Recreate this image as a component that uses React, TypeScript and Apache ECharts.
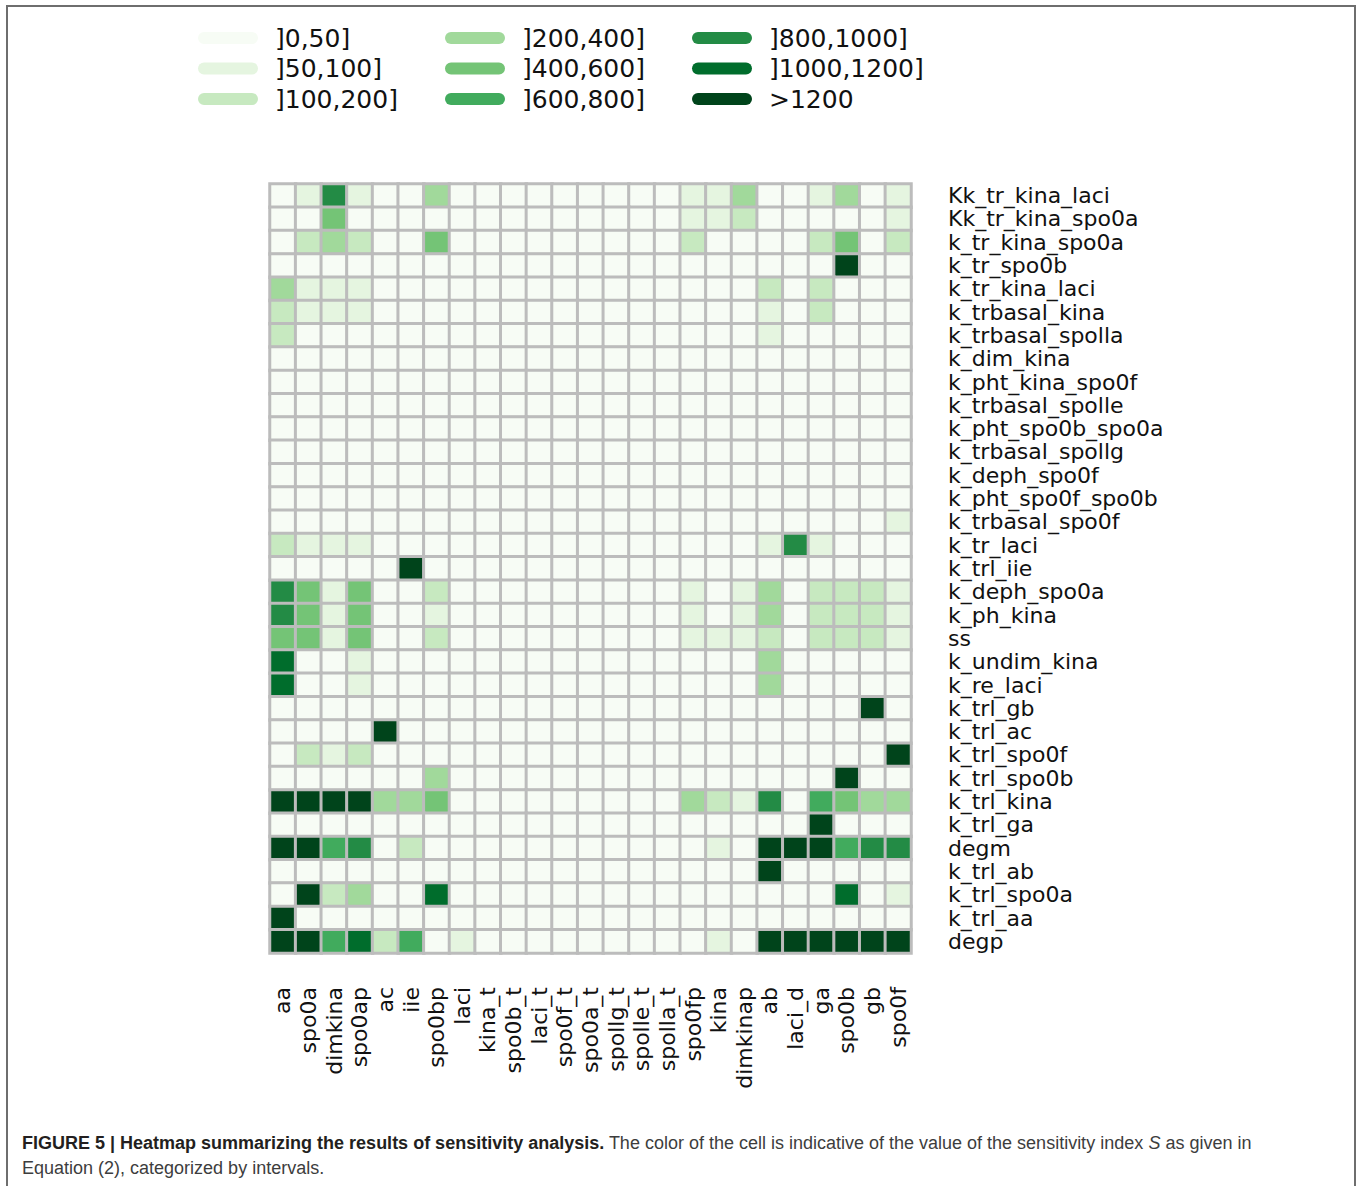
import React, { useEffect, useRef } from "react";
import * as echarts from "echarts";

const columns = [
  "aa", "spo0a", "dimkina", "spo0ap", "ac", "iie", "spo0bp", "laci", "kina_t",
  "spo0b_t", "laci_t", "spo0f_t", "spo0a_t", "spollg_t", "spolle_t", "spolla_t",
  "spo0fp", "kina", "dimkinap", "ab", "laci_d", "ga", "spo0b", "gb", "spo0f",
];

const rows = [
  "Kk_tr_kina_laci", "Kk_tr_kina_spo0a", "k_tr_kina_spo0a", "k_tr_spo0b",
  "k_tr_kina_laci", "k_trbasal_kina", "k_trbasal_spolla", "k_dim_kina",
  "k_pht_kina_spo0f", "k_trbasal_spolle", "k_pht_spo0b_spo0a", "k_trbasal_spollg",
  "k_deph_spo0f", "k_pht_spo0f_spo0b", "k_trbasal_spo0f", "k_tr_laci", "k_trl_iie",
  "k_deph_spo0a", "k_ph_kina", "ss", "k_undim_kina", "k_re_laci", "k_trl_gb",
  "k_trl_ac", "k_trl_spo0f", "k_trl_spo0b", "k_trl_kina", "k_trl_ga", "degm",
  "k_trl_ab", "k_trl_spo0a", "k_trl_aa", "degp",
];

// Sensitivity index S, one row per parameter (columns as above)
const sensitivity: number[][] = [
  [10, 70, 900, 70, 10, 10, 300, 10, 10, 10, 10, 10, 10, 10, 10, 10, 70, 70, 300, 10, 10, 70, 300, 10, 70],
  [10, 10, 500, 10, 10, 10, 10, 10, 10, 10, 10, 10, 10, 10, 10, 10, 70, 70, 150, 10, 10, 10, 10, 10, 70],
  [10, 150, 300, 150, 10, 10, 500, 10, 10, 10, 10, 10, 10, 10, 10, 10, 150, 10, 10, 10, 10, 150, 500, 10, 150],
  [10, 10, 10, 10, 10, 10, 10, 10, 10, 10, 10, 10, 10, 10, 10, 10, 10, 10, 10, 10, 10, 10, 1500, 10, 10],
  [300, 70, 70, 70, 10, 10, 10, 10, 10, 10, 10, 10, 10, 10, 10, 10, 10, 10, 10, 150, 10, 150, 10, 10, 10],
  [150, 70, 70, 70, 10, 10, 10, 10, 10, 10, 10, 10, 10, 10, 10, 10, 10, 10, 10, 70, 10, 150, 10, 10, 10],
  [150, 10, 10, 10, 10, 10, 10, 10, 10, 10, 10, 10, 10, 10, 10, 10, 10, 10, 10, 70, 10, 10, 10, 10, 10],
  [10, 10, 10, 10, 10, 10, 10, 10, 10, 10, 10, 10, 10, 10, 10, 10, 10, 10, 10, 10, 10, 10, 10, 10, 10],
  [10, 10, 10, 10, 10, 10, 10, 10, 10, 10, 10, 10, 10, 10, 10, 10, 10, 10, 10, 10, 10, 10, 10, 10, 10],
  [10, 10, 10, 10, 10, 10, 10, 10, 10, 10, 10, 10, 10, 10, 10, 10, 10, 10, 10, 10, 10, 10, 10, 10, 10],
  [10, 10, 10, 10, 10, 10, 10, 10, 10, 10, 10, 10, 10, 10, 10, 10, 10, 10, 10, 10, 10, 10, 10, 10, 10],
  [10, 10, 10, 10, 10, 10, 10, 10, 10, 10, 10, 10, 10, 10, 10, 10, 10, 10, 10, 10, 10, 10, 10, 10, 10],
  [10, 10, 10, 10, 10, 10, 10, 10, 10, 10, 10, 10, 10, 10, 10, 10, 10, 10, 10, 10, 10, 10, 10, 10, 10],
  [10, 10, 10, 10, 10, 10, 10, 10, 10, 10, 10, 10, 10, 10, 10, 10, 10, 10, 10, 10, 10, 10, 10, 10, 10],
  [10, 10, 10, 10, 10, 10, 10, 10, 10, 10, 10, 10, 10, 10, 10, 10, 10, 10, 10, 10, 10, 10, 10, 10, 70],
  [150, 70, 70, 70, 10, 10, 10, 10, 10, 10, 10, 10, 10, 10, 10, 10, 10, 10, 10, 70, 900, 70, 10, 10, 10],
  [10, 10, 10, 10, 10, 1500, 10, 10, 10, 10, 10, 10, 10, 10, 10, 10, 10, 10, 10, 10, 10, 10, 10, 10, 10],
  [900, 500, 70, 500, 10, 10, 150, 10, 10, 10, 10, 10, 10, 10, 10, 10, 70, 10, 70, 300, 10, 150, 150, 150, 70],
  [900, 500, 70, 500, 10, 10, 70, 10, 10, 10, 10, 10, 10, 10, 10, 10, 70, 10, 70, 300, 10, 150, 150, 150, 70],
  [500, 500, 70, 500, 10, 10, 150, 10, 10, 10, 10, 10, 10, 10, 10, 10, 70, 70, 70, 150, 10, 150, 150, 150, 70],
  [1100, 10, 10, 70, 10, 10, 10, 10, 10, 10, 10, 10, 10, 10, 10, 10, 10, 10, 10, 300, 10, 10, 10, 10, 10],
  [1100, 10, 10, 70, 10, 10, 10, 10, 10, 10, 10, 10, 10, 10, 10, 10, 10, 10, 10, 300, 10, 10, 10, 10, 10],
  [10, 10, 10, 10, 10, 10, 10, 10, 10, 10, 10, 10, 10, 10, 10, 10, 10, 10, 10, 10, 10, 10, 10, 1500, 10],
  [10, 10, 10, 10, 1500, 10, 10, 10, 10, 10, 10, 10, 10, 10, 10, 10, 10, 10, 10, 10, 10, 10, 10, 10, 10],
  [10, 150, 70, 150, 10, 10, 10, 10, 10, 10, 10, 10, 10, 10, 10, 10, 10, 10, 10, 10, 10, 10, 10, 10, 1500],
  [10, 10, 10, 10, 10, 10, 300, 10, 10, 10, 10, 10, 10, 10, 10, 10, 10, 10, 10, 10, 10, 10, 1500, 10, 10],
  [1500, 1500, 1500, 1500, 300, 300, 500, 10, 10, 10, 10, 10, 10, 10, 10, 10, 300, 150, 70, 900, 10, 700, 500, 300, 300],
  [10, 10, 10, 10, 10, 10, 10, 10, 10, 10, 10, 10, 10, 10, 10, 10, 10, 10, 10, 10, 10, 1500, 10, 10, 10],
  [1500, 1500, 700, 900, 10, 150, 10, 10, 10, 10, 10, 10, 10, 10, 10, 10, 10, 70, 10, 1500, 1500, 1500, 700, 900, 900],
  [10, 10, 10, 10, 10, 10, 10, 10, 10, 10, 10, 10, 10, 10, 10, 10, 10, 10, 10, 1500, 10, 10, 10, 10, 10],
  [10, 1500, 150, 300, 10, 10, 1100, 10, 10, 10, 10, 10, 10, 10, 10, 10, 10, 10, 10, 10, 10, 10, 1100, 10, 70],
  [1500, 10, 10, 10, 10, 10, 10, 10, 10, 10, 10, 10, 10, 10, 10, 10, 10, 10, 10, 10, 10, 10, 10, 10, 10],
  [1500, 1500, 700, 1100, 150, 700, 10, 70, 10, 10, 10, 10, 10, 10, 10, 10, 10, 70, 10, 1500, 1500, 1500, 1500, 1500, 1500],
];

const intervalLabels = [
  "]0,50]", "]50,100]", "]100,200]", "]200,400]", "]400,600]",
  "]600,800]", "]800,1000]", "]1000,1200]", ">1200",
];
const intervalLower = [0, 50, 100, 200, 400, 600, 800, 1000, 1200];
const intervalUpper = [50, 100, 200, 400, 600, 800, 1000, 1200, null];
const intervalColors = [
  "#f7fcf5", "#e5f5e0", "#c7e9c0", "#a1d99b", "#74c476",
  "#41ab5d", "#238b45", "#006d2c", "#00441b",
];

const captionBold = "FIGURE 5 | Heatmap summarizing the results of sensitivity analysis.";
const captionText1 = " The color of the cell is indicative of the value of the sensitivity index ";
const captionItalic = "S";
const captionText2 = " as given in";
const captionLine2 = "Equation (2), categorized by intervals.";

export default function App() {
  const ref = useRef<HTMLDivElement>(null);

  useEffect(() => {
    if (!ref.current) return;
    const chart = echarts.init(ref.current, undefined, { renderer: "svg" });

    const data: number[][] = [];
    sensitivity.forEach((row, r) => {
      row.forEach((v, c) => data.push([c, r, v]));
    });

    const pieces = intervalLabels.map((label, i) => {
      const p: any = { gt: intervalLower[i], color: intervalColors[i], label };
      if (intervalUpper[i] !== null) p.lte = intervalUpper[i];
      return p;
    });

    const legendGraphics: any[] = [];
    intervalLabels.forEach((label, i) => {
      const col = Math.floor(i / 3);
      const row = i % 3;
      const x = 198 + col * 247;
      const y = 38 + row * 30.5;
      legendGraphics.push({
        type: "rect",
        shape: { x, y: y - 6, width: 60, height: 12, r: 6 },
        style: { fill: intervalColors[i] },
      });
      legendGraphics.push({
        type: "text",
        x: x + 77,
        y,
        style: {
          text: label,
          fontSize: 25,
          fontFamily: "DejaVu Sans",
          fill: "#111",
          verticalAlign: "middle",
          align: "left",
        },
      });
    });

    chart.setOption({
      animation: false,
      backgroundColor: "#ffffff",
      textStyle: { fontFamily: "DejaVu Sans" },
      grid: { left: 270, top: 184, width: 641, height: 769 },
      xAxis: {
        type: "category",
        data: columns,
        position: "bottom",
        axisLine: { show: false },
        axisTick: { show: false },
        splitLine: { show: false },
        axisLabel: {
          rotate: 90,
          fontSize: 22,
          color: "#111",
          margin: 34,
          interval: 0,
          fontFamily: "DejaVu Sans",
        },
      },
      yAxis: {
        type: "category",
        data: rows,
        inverse: true,
        position: "right",
        axisLine: { show: false },
        axisTick: { show: false },
        splitLine: { show: false },
        axisLabel: {
          fontSize: 22,
          color: "#111",
          margin: 37,
          interval: 0,
          fontFamily: "DejaVu Sans",
        },
      },
      visualMap: {
        type: "piecewise",
        show: false,
        dimension: 2,
        pieces,
      },
      series: [
        {
          type: "heatmap",
          data,
          itemStyle: { borderColor: "#bcbcbc", borderWidth: 3 },
          emphasis: { disabled: true },
        },
      ],
      graphic: [
        {
          type: "rect",
          shape: { x: 7, y: 6, width: 1348, height: 1220 },
          style: { fill: "none", stroke: "#6e6e6e", lineWidth: 2 },
          silent: true,
        },
        ...legendGraphics,
        {
          type: "text",
          x: 22,
          y: 1130,
          style: {
            text:
              "{b|" + captionBold + "}{n|" + captionText1 + "}{i|" + captionItalic + "}{n|" +
              captionText2 + "}\n{n|" + captionLine2 + "}",
            lineHeight: 25,
            rich: {
              b: { fontFamily: "Liberation Sans", fontSize: 18, fontWeight: "bold", fill: "#231f20", lineHeight: 25 },
              n: { fontFamily: "Liberation Sans", fontSize: 18, fill: "#3d3d3d", lineHeight: 25 },
              i: { fontFamily: "Liberation Sans", fontSize: 18, fontStyle: "italic", fill: "#3d3d3d", lineHeight: 25 },
            },
          },
        },
      ],
    });

    return () => chart.dispose();
  }, []);

  return (
    <div
      ref={ref}
      style={{ position: "absolute", left: 0, top: 0, width: 1357, height: 1186 }}
    />
  );
}
